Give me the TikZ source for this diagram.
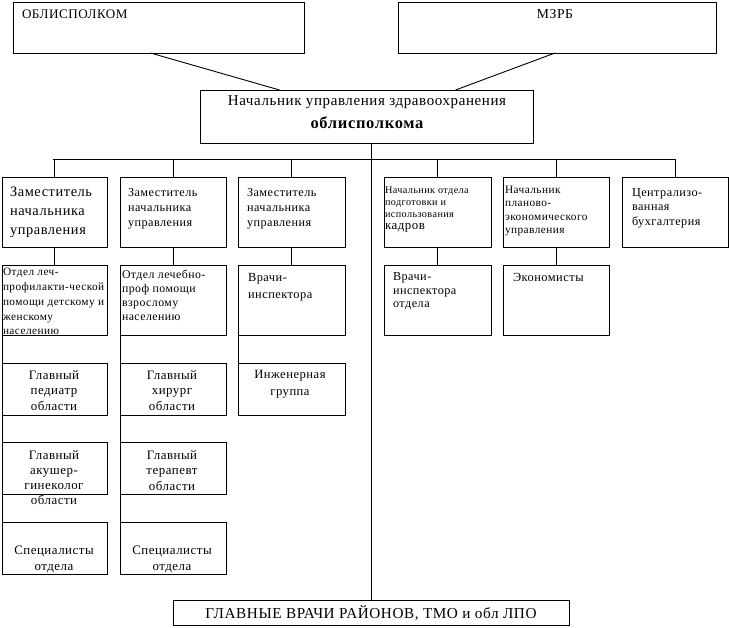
\documentclass[tikz,border=0pt]{standalone}
\usepackage{fontspec}
\setmainfont[LetterSpace=4]{Liberation Serif}
\newcommand{\myfs}[2]{\fontsize{#1}{#2}\selectfont}
\begin{document}
\begin{tikzpicture}[x=1pt,y=-1pt,
  box/.style={draw,line width=0.9pt,inner sep=0pt,outer sep=0pt,anchor=north west,rectangle},
  txt/.style={inner sep=0pt,outer sep=0pt,align=left,anchor=north west},
  ctxt/.style={inner sep=0pt,outer sep=0pt,align=center,anchor=north},
  conn/.style={line width=0.9pt}]
\useasboundingbox (0,0) rectangle (729,628);
% top boxes
\node[box,minimum width=291pt,minimum height=51pt] (obl) at (13,2) {};
\node[txt,font=\myfs{13.1}{14}] (oblt) at (22,9.5) {ОБЛИСПОЛКОМ};
\node[box,minimum width=318pt,minimum height=51pt] (mzrb) at (398,2) {};
\node[inner sep=0pt,font=\myfs{13.7}{14}] (mzrbt) at (555,14) {МЗРБ};
\node[box,minimum width=333pt,minimum height=53pt] (head) at (200,90) {};
\node[ctxt,font=\myfs{15}{23}] (headt) at (367,95.5) {Начальник управления здравоохранения\\\myfs{16.5}{23}\bfseries облисполкома};
% row 1
\node[box,minimum width=105pt,minimum height=70pt] (r1c1) at (2,177) {};
\node[box,minimum width=106pt,minimum height=70pt] (r1c2) at (120,177) {};
\node[box,minimum width=107pt,minimum height=70pt] (r1c3) at (238,177) {};
\node[box,minimum width=107pt,minimum height=70pt] (r1c4) at (384,177) {};
\node[box,minimum width=106pt,minimum height=70pt] (r1c5) at (503,177) {};
\node[box,minimum width=106pt,minimum height=70pt] (r1c6) at (622,177) {};
\node[txt,font=\myfs{14.4}{19}] (r1c1t) at (10,187) {Заместитель\\начальника\\управления};
\node[txt,font=\myfs{12.2}{15}] (r1c2t) at (128,188) {Заместитель\\начальника\\управления};
\node[txt,font=\myfs{12.2}{15}] (r1c3t) at (247,188) {Заместитель\\начальника\\управления};
\node[txt,font=\myfs{10.2}{12}] (r1c4t) at (385,186.5) {Начальник отдела\\подготовки и\\использования\\\myfs{12.9}{12.5}кадров};
\node[txt,font=\myfs{11.3}{13.5}] (r1c5t) at (505,186) {Начальник\\планово-\\экономического\\управления};
\node[txt,font=\myfs{12.2}{14.5}] (r1c6t) at (632,188.5) {Централизо-\\ванная\\бухгалтерия};
% row 2
\node[box,minimum width=105pt,minimum height=70pt] (r2c1) at (2,265) {};
\node[box,minimum width=106pt,minimum height=70pt] (r2c2) at (120,265) {};
\node[box,minimum width=107pt,minimum height=70pt] (r2c3) at (238,265) {};
\node[box,minimum width=107pt,minimum height=70pt] (r2c4) at (384,265) {};
\node[box,minimum width=106pt,minimum height=70pt] (r2c5) at (503,265) {};
\node[txt,font=\myfs{11.3}{14.7}] (r2c1t) at (3,268.5) {Отдел леч-\\профилакти-ческой\\помощи детскому и\\женскому\\населению};
\node[txt,font=\myfs{11.8}{13.8}] (r2c2t) at (122,270.5) {Отдел лечебно-\\проф помощи\\взрослому\\населению};
\node[txt,font=\myfs{12.4}{17}] (r2c3t) at (248,273) {Врачи-\\инспектора};
\node[txt,font=\myfs{12.2}{13.5}] (r2c4t) at (393,273) {Врачи-\\инспектора\\отдела};
\node[txt,font=\myfs{12.4}{14}] (r2c5t) at (513,273) {Экономисты};
% row 3
\node[box,minimum width=105pt,minimum height=52pt] (r3c1) at (2,363) {};
\node[box,minimum width=106pt,minimum height=52pt] (r3c2) at (120,363) {};
\node[box,minimum width=107pt,minimum height=52pt] (r3c3) at (238,363) {};
\node[ctxt,font=\myfs{12.9}{15.5}] (r3c1t) at (54,370.5) {Главный\\педиатр\\области};
\node[ctxt,font=\myfs{12.9}{15.5}] (r3c2t) at (172,370.5) {Главный\\хирург\\области};
\node[ctxt,font=\myfs{12.6}{17}] (r3c3t) at (290,370.5) {Инженерная\\группа};
% row 4
\node[box,minimum width=105pt,minimum height=52pt] (r4c1) at (2,442) {};
\node[box,minimum width=106pt,minimum height=52pt] (r4c2) at (120,442) {};
\node[ctxt,font=\myfs{12.9}{15}] (r4c1t) at (54,450.5) {Главный\\акушер-\\гинеколог\\области};
\node[ctxt,font=\myfs{12.9}{15.5}] (r4c2t) at (172,450.5) {Главный\\терапевт\\области};
% row 5
\node[box,minimum width=105pt,minimum height=52pt] (r5c1) at (2,522) {};
\node[box,minimum width=106pt,minimum height=52pt] (r5c2) at (120,522) {};
\node[ctxt,font=\myfs{12.9}{15.5}] (r5c1t) at (54,546) {Специалисты\\отдела};
\node[ctxt,font=\myfs{12.9}{15.5}] (r5c2t) at (172,546) {Специалисты\\отдела};
% bottom
\node[box,minimum width=396pt,minimum height=25pt] (bot) at (173,600) {};
\node[inner sep=0pt,font=\myfs{15.2}{16}] (bott) at (371,613) {ГЛАВНЫЕ ВРАЧИ РАЙОНОВ, ТМО и обл ЛПО};
% connectors
\draw[conn] ([xshift=-8pt]obl.south) -- ([xshift=-87pt]head.north);
\draw[conn] ([xshift=-2pt]mzrb.south) -- ([xshift=89pt]head.north);
\draw[conn] (head.south -| bot.north) -- (bot.north);
\coordinate (busL) at (53,159);
\coordinate (busR) at (675,159);
\draw[conn] (busL) -- (busR);
\foreach \n in {r1c1,r1c2,r1c3,r1c4,r1c5,r1c6}
  \draw[conn] (\n.north) -- (\n.north |- busL);
\foreach \a/\b in {r1c1/r2c1,r1c2/r2c2,r1c3/r2c3,r1c4/r2c4,r1c5/r2c5}
  \draw[conn] (\a.south) -- (\b.north);
\foreach \a/\b in {r2c1/r3c1,r3c1/r4c1,r4c1/r5c1,r2c2/r3c2,r3c2/r4c2,r4c2/r5c2,r2c3/r3c3}
  \draw[conn] (\a.south west) -- (\b.north west);
\end{tikzpicture}
\end{document}
